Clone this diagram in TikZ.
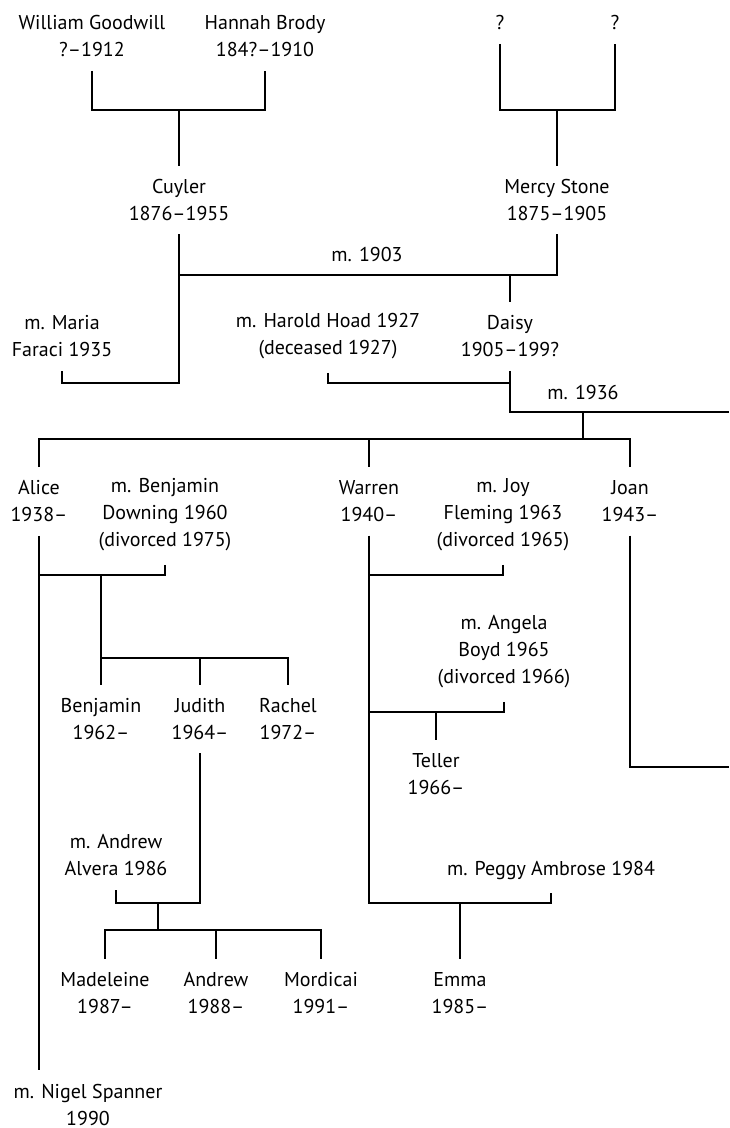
\documentclass[tikz,border=0pt]{standalone}
\usepackage{fontspec}
\setmainfont{PT Sans}

\begin{document}
\begin{tikzpicture}[x=0.5pt,y=-0.5pt,line width=0.6pt,
	person/.style={align=center,inner xsep=2pt,inner ysep=6.5pt,font=\fontsize{10}{13.5}\selectfont},
	mark label/.style={inner sep=2pt,font=\fontsize{10}{13.5}\selectfont}]

		\useasboundingbox (0,0) rectangle (729,1128);

		% first generation
		\node[person] (p1) at ( 92, 36.5) {William Goodwill\\?–1912};
		\node[person] (p2) at (265, 36.5) {Hannah Brody\\184?–1910};
		\node[person] (p3) at (500, 23) {?};
		\node[person] (p4) at (615, 23) {?};

		\node[person] (p5) at (179,200) {Cuyler\\1876–1955};
		\node[person] (p6) at (557,200) {Mercy Stone\\1875–1905};
		\node[mark label] (m1) at (367,255) {m. 1903};

		\node[person] (p7) at ( 62,336.5) {m. Maria\\Faraci 1935};
		\node[person] (p8) at (328,336.5) {m. Harold Hoad 1927\\(deceased 1927)};
		\node[person] (p9) at (510,336.5) {Daisy\\1905–199?};
		\node[mark label] (m2) at (583,392) {m. 1936};

		% children of Daisy
		\node[person] (p10) at ( 39,501.5) {Alice\\1938–};
		\node[person] (p11) at (165,515) {m. Benjamin\\Downing 1960\\(divorced 1975)};
		\node[person] (p12) at (369,501.5) {Warren\\1940–};
		\node[person] (p13) at (503,515) {m. Joy\\Fleming 1963\\(divorced 1965)};
		\node[person] (p14) at (630,501.5) {Joan\\1943–};

		\node[person] (p15) at (504,652) {m. Angela\\Boyd 1965\\(divorced 1966)};
		\node[person] (p16) at (101,719) {Benjamin\\1962–};
		\node[person] (p17) at (200,719) {Judith\\1964–};
		\node[person] (p18) at (288,719) {Rachel\\1972–};
		\node[person] (p19) at (436,774) {Teller\\1966–};

		\node[person] (p20) at (116,855.5) {m. Andrew\\Alvera 1986};
		\node[person] (p21) at (551,870) {m. Peggy Ambrose 1984};

		\node[person] (p22) at (105,993) {Madeleine\\1987–};
		\node[person] (p23) at (216,993) {Andrew\\1988–};
		\node[person] (p24) at (321,993) {Mordicai\\1991–};
		\node[person] (p25) at (460,993) {Emma\\1985–};

		\node[person] (p26) at ( 88,1104.5) {m. Nigel Spanner\\1990};

		% junctions
		\coordinate (j1) at (179,110);
		\coordinate (j2) at (557,110);
		\coordinate (j3) at (179,275);
		\coordinate (j4) at (510,275);
		\coordinate (j5) at (179,383);
		\coordinate (j6) at (510,383);
		\coordinate (j7) at (729,412);
		\coordinate (j8) at (583,412);
		\coordinate (j9) at (583,439);
		\coordinate (j10) at (369,439);
		\coordinate (j11) at (729,767);
		\coordinate (j12) at ( 39,575);
		\coordinate (j13) at (101,575);
		\coordinate (j14) at (101,658);
		\coordinate (j15) at (200,658);
		\coordinate (j16) at (200,903);
		\coordinate (j17) at (158,903);
		\coordinate (j18) at (158,930);
		\coordinate (j19) at (216,930);
		\coordinate (j20) at (369,575);
		\coordinate (j21) at (369,712);
		\coordinate (j22) at (436,712);
		\coordinate (j23) at (369,903);
		\coordinate (j24) at (460,903);

		\draw (p1) |- (j1) -| (p2); \draw (j1) to (p5);
		\draw (p3) |- (j2) -| (p4); \draw (j2) to (p6);

		\draw (p5) to (j5) -| (p7);
		\draw (p6) |- (j3); \draw (j4) to (p9);
		\draw (p8) |- (j6);
		\draw (p9) |- (j7);

		\draw (j8) to (j9);
		\draw (p10) |- (j9) -| (p14); \draw (j10) to (p12);
		\draw (p14) |- (j11);

		\draw (p10) to (p10 |- p26.north);
		\draw (p11) |- (j12);
		\draw (j13) to (p16);
		\draw (j14) -| (p18); \draw (j15) to (p17);

		\draw (p17) to (j16) -| (p20);
		\draw (j17) to (j18);
		\draw (p22) |- (j18) -| (p24); \draw (j19) to (p23);

		\draw (p13) |- (j20);
		\draw (p15) |- (j21); \draw (j22) to (p19);
		\draw (p12) to (j23) -| (p21); \draw (j24) to (p25);

	\end{tikzpicture}
\end{document}
